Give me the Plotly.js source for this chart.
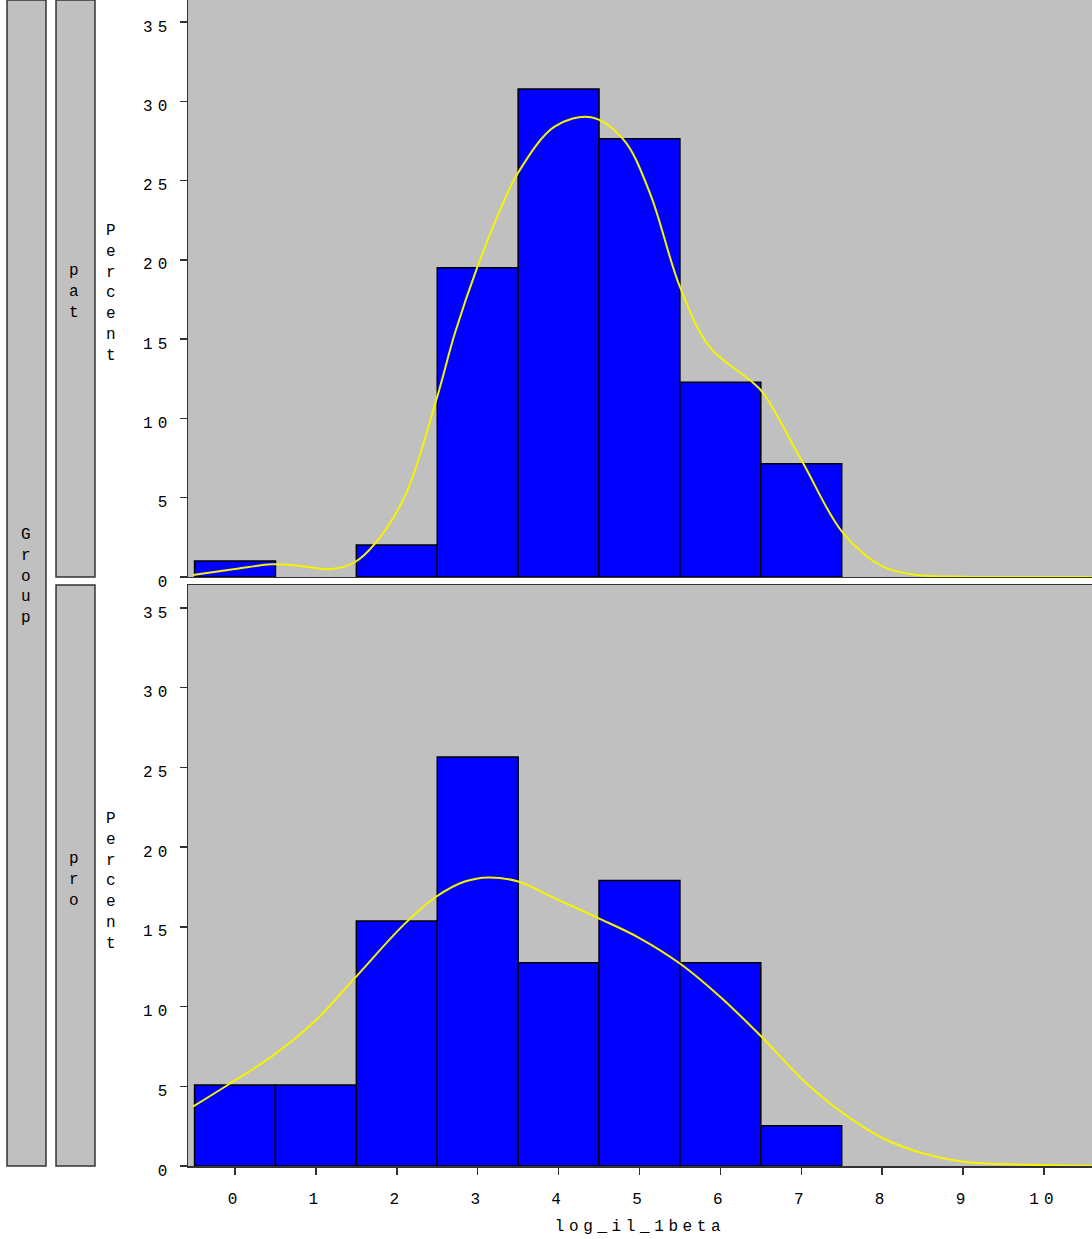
<!DOCTYPE html>
<html><head><meta charset="utf-8">
<script src="https://cdn.plot.ly/plotly-3.0.1.min.js"></script>
<style>
body{margin:0;background:#fff}
#chart{width:1092px;height:1239px}
.xtick text,.ytick text,.x2tick text,.y2tick text{letter-spacing:5px}
.g-x2title text{letter-spacing:4.6px}
</style></head><body><div id="chart"></div>
<script>
// Histogram bins (bin centers, width 1)
const binCenters = [0, 1, 2, 3, 4, 5, 6, 7];
// Percent per bin, group "pat"
const patPercent = [1.01, null, 2.02, 19.5, 30.77, 27.64, 12.28, 7.15];
// Percent per bin, group "pro"
const proPercent = [5.08, 5.08, 15.37, 25.65, 12.75, 17.9, 12.75, 2.53];

// Density curve, group "pat"
const patCurveX = [-0.52, 0.0, 0.45, 0.8, 1.19, 1.48, 1.73, 2.10, 2.49, 2.72, 3.0, 3.29, 3.50, 3.95, 4.40, 4.80, 5.13, 5.50, 5.87, 6.37, 6.53, 7.02, 7.52, 8.01, 8.43, 9.0, 10.0, 10.59];
const patCurveY = [0.13, 0.5, 0.8, 0.7, 0.5, 0.93, 2.1, 5.1, 11.2, 15.4, 19.6, 23.3, 25.5, 28.4, 29.0, 27.6, 24.2, 18.3, 14.5, 12.4, 11.6, 7.2, 2.75, 0.65, 0.13, 0.02, 0, 0];
// Density curve, group "pro"
const proCurveX = [-0.52, -0.09, 0.45, 0.98, 1.48, 2.10, 2.49, 2.84, 3.13, 3.50, 3.95, 4.49, 5.0, 5.50, 6.0, 6.53, 7.02, 7.52, 8.01, 8.5, 9.0, 9.99, 10.59];
const proCurveY = [3.72, 5.08, 6.86, 9.05, 11.78, 15.2, 16.9, 17.84, 18.1, 17.84, 16.8, 15.55, 14.3, 12.7, 10.6, 8.0, 5.4, 3.3, 1.74, 0.8, 0.27, 0.06, 0.02];

const xTicks = [0, 1, 2, 3, 4, 5, 6, 7, 8, 9, 10];
const yTicks = [0, 5, 10, 15, 20, 25, 30, 35];
const groupLabels = ['pat', 'pro'];

const FONT = 'Liberation Mono, Courier New, monospace';
const barStyle = {color: '#0000FF', line: {color: '#000000', width: 1.5}};
const curveStyle = {color: '#F4F400', width: 2, shape: 'spline'};

const traces = [
  {type: 'bar', x: binCenters, y: patPercent, width: 1, marker: barStyle, xaxis: 'x', yaxis: 'y', hoverinfo: 'x+y'},
  {type: 'scatter', mode: 'lines', x: patCurveX, y: patCurveY, line: curveStyle, xaxis: 'x', yaxis: 'y'},
  {type: 'bar', x: binCenters, y: proPercent, width: 1, marker: barStyle, xaxis: 'x2', yaxis: 'y2', hoverinfo: 'x+y'},
  {type: 'scatter', mode: 'lines', x: proCurveX, y: proCurveY, line: curveStyle, xaxis: 'x2', yaxis: 'y2'}
];

const axCommon = {showline: true, mirror: true, linecolor: '#333333', linewidth: 1.5, showgrid: false, zeroline: false,
  tickfont: {family: FONT, size: 16, color: '#000'}, tickcolor: '#333333', tickwidth: 1.5};

const xr = [-0.581, 10.594];
const layout = {
  width: 1092, height: 1239,
  margin: {l: 188, r: 0, t: 0, b: 73},
  paper_bgcolor: '#FFFFFF', plot_bgcolor: '#C0C0C0',
  showlegend: false, bargap: 0,
  font: {family: FONT, size: 16, color: '#000'},
  xaxis: Object.assign({}, axCommon, {anchor: 'y', domain: [0, 1], range: xr, showticklabels: false, ticks: ''}),
  xaxis2: Object.assign({}, axCommon, {anchor: 'y2', domain: [0, 1], range: xr, tickvals: xTicks, ticks: 'outside', ticklen: 7,
    ticklabelstandoff: 10, ticklabelshift: 2.5,
    title: {text: 'log_il_1beta', font: {family: FONT, size: 16, color: '#000'}, standoff: 12}}),
  yaxis: Object.assign({}, axCommon, {anchor: 'x', domain: [0.50515, 1], range: [0, 36.39], tickvals: yTicks, ticks: 'outside', ticklen: 7, ticklabelshift: 4, ticklabelstandoff: 4}),
  yaxis2: Object.assign({}, axCommon, {anchor: 'x2', domain: [0, 0.49828], range: [0, 36.44], tickvals: yTicks, ticks: 'outside', ticklen: 7, ticklabelshift: 4, ticklabelstandoff: 4}),
  shapes: [
    {type: 'rect', xref: 'paper', yref: 'paper', x0: -0.2002, x1: -0.1571, y0: 0, y1: 1, fillcolor: '#C0C0C0', line: {color: '#333333', width: 1.5}, layer: 'below'},
    {type: 'rect', xref: 'paper', yref: 'paper', x0: -0.146, x1: -0.1029, y0: 0.50515, y1: 1, fillcolor: '#C0C0C0', line: {color: '#333333', width: 1.5}, layer: 'below'},
    {type: 'rect', xref: 'paper', yref: 'paper', x0: -0.146, x1: -0.1029, y0: 0, y1: 0.49828, fillcolor: '#C0C0C0', line: {color: '#333333', width: 1.5}, layer: 'below'}
  ],
  annotations: [
    {xref: 'paper', yref: 'paper', x: -0.1792, y: 0.506, text: 'G<br>r<br>o<br>u<br>p', showarrow: false, xanchor: 'center', yanchor: 'middle', font: {family: FONT, size: 16}},
    {xref: 'paper', yref: 'paper', x: -0.1261, y: 0.7496, text: groupLabels[0].split('').join('<br>'), showarrow: false, xanchor: 'center', yanchor: 'middle', font: {family: FONT, size: 16}},
    {xref: 'paper', yref: 'paper', x: -0.1261, y: 0.2453, text: groupLabels[1].split('').join('<br>'), showarrow: false, xanchor: 'center', yanchor: 'middle', font: {family: FONT, size: 16}},
    {xref: 'paper', yref: 'paper', x: -0.0852, y: 0.7487, text: 'P<br>e<br>r<br>c<br>e<br>n<br>t', showarrow: false, xanchor: 'center', yanchor: 'middle', font: {family: FONT, size: 16}},
    {xref: 'paper', yref: 'paper', x: -0.0852, y: 0.2436, text: 'P<br>e<br>r<br>c<br>e<br>n<br>t', showarrow: false, xanchor: 'center', yanchor: 'middle', font: {family: FONT, size: 16}}
  ]
};

Plotly.newPlot('chart', traces, layout, {displayModeBar: false, staticPlot: true});
</script></body></html>
